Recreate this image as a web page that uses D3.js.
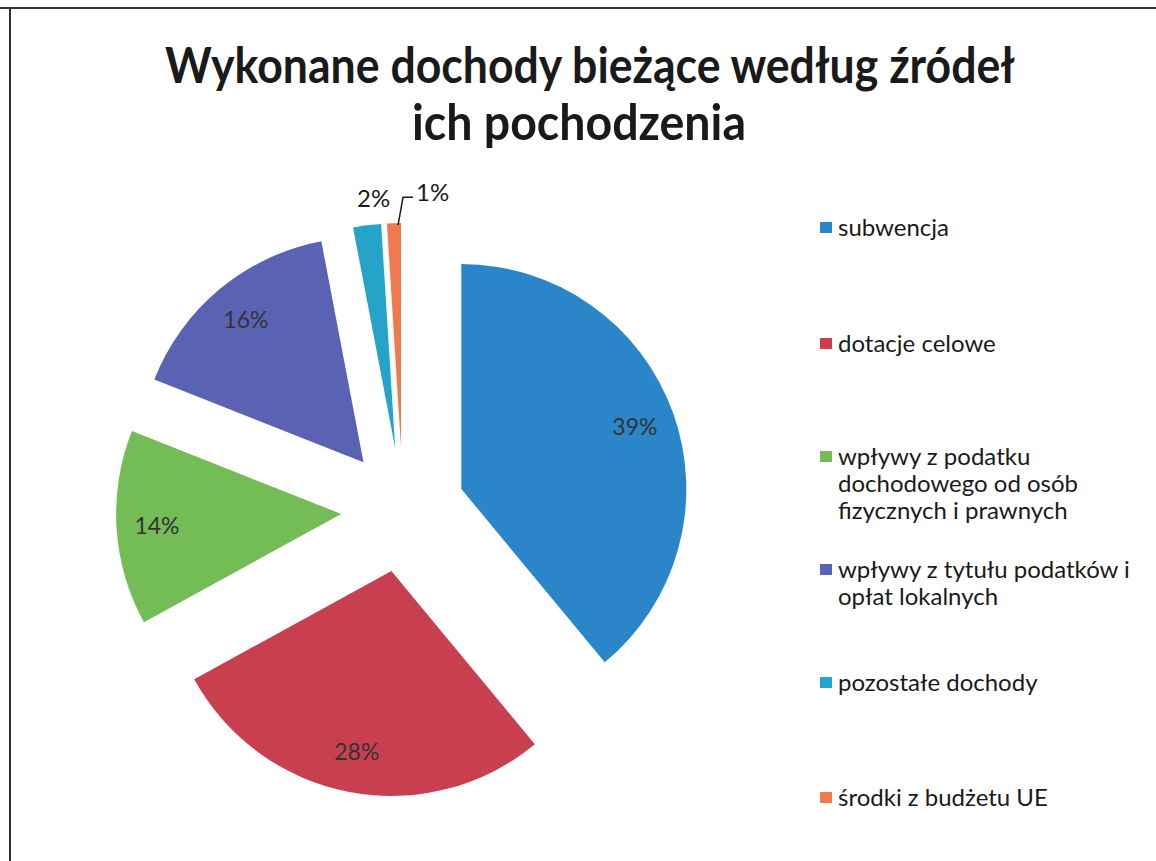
<!DOCTYPE html>
<html><head><meta charset="utf-8">
<script src="https://cdn.jsdelivr.net/npm/d3@7"></script>
<style>body{margin:0;background:#fff}svg{display:block}</style>
</head><body>
<svg id="c" width="1156" height="861"></svg>
<script>
const categories = ["subwencja","dotacje celowe","wpływy z podatku dochodowego od osób fizycznych i prawnych","wpływy z tytułu podatków i opłat lokalnych","pozostałe dochody","środki z budżetu UE"];
const legendLines = [["subwencja"],["dotacje celowe"],["wpływy z podatku","dochodowego od osób","fizycznych i prawnych"],["wpływy z tytułu podatków i","opłat lokalnych"],["pozostałe dochody"],["środki z budżetu UE"]];
const values = [39, 28, 14, 16, 2, 1];
const labels = ["39%","28%","14%","16%","2%","1%"];
const titleLines = ["Wykonane dochody bieżące według źródeł","ich pochodzenia"];
const colors = ["#2a86c8","#c8404f","#74bc55","#5a63b3","#25a3c8","#f07a50"];

const svg = d3.select("#c");
const FONT = "Lato, 'Open Sans', sans-serif";
// scan frame
svg.append("line").attr("x1",0).attr("x2",1156).attr("y1",8).attr("y2",8).attr("stroke","#333").attr("stroke-width",2);
svg.append("line").attr("x1",10).attr("x2",10).attr("y1",8).attr("y2",861).attr("stroke","#333").attr("stroke-width",2);

// title
const tw = [850, 334], tx = [590, 579];
titleLines.forEach((t,i)=>{
  svg.append("text").attr("x",tx[i]).attr("y",83+i*57).attr("text-anchor","middle")
    .attr("font-family",FONT).attr("font-weight","bold").attr("font-size",50)
    .attr("fill","#1a1a1a").attr("textLength",tw[i]).attr("lengthAdjust","spacingAndGlyphs").text(t);
});

const cx = 403, cy = 510, R = 225, explode = 62;
const pie = d3.pie().sort(null).value(d=>d)(values);
const arc = d3.arc().innerRadius(0).outerRadius(R);
const g = svg.append("g").attr("transform",`translate(${cx},${cy})`);
pie.forEach((p,i)=>{
  const m = (p.startAngle+p.endAngle)/2;
  const ox = explode*Math.sin(m), oy = -explode*Math.cos(m);
  const sg = g.append("g").attr("transform",`translate(${ox},${oy})`);
  sg.append("path").attr("d",arc(p)).attr("fill",colors[i]);
  if (i < 4) {
    const lr = R*0.82;
    sg.append("text").attr("x",lr*Math.sin(m)).attr("y",-lr*Math.cos(m)).attr("dy","0.35em")
      .attr("text-anchor","middle").attr("font-family",FONT).attr("font-size",23)
      .attr("fill","#333").text(labels[i]);
  } else if (i === 4) {
    const lr = R + 27;
    sg.append("text").attr("x",lr*Math.sin(m)+10).attr("y",-lr*Math.cos(m)).attr("dy","0.35em")
      .attr("text-anchor","middle").attr("font-family",FONT).attr("font-size",24)
      .attr("fill","#1a1a1a").text(labels[i]);
  } else {
    const px = (R-2)*Math.sin(m)+4, py = -(R-2)*Math.cos(m);
    sg.append("path").attr("d",`M${px},${py}L${px+5},${py-28}L${px+15},${py-28}`)
      .attr("fill","none").attr("stroke","#1a1a1a").attr("stroke-width",1.5);
    sg.append("text").attr("x",px+18).attr("y",py-33).attr("dy","0.35em")
      .attr("font-family",FONT).attr("font-size",24)
      .attr("fill","#1a1a1a").text(labels[i]);
  }
});

// legend
const startY = [228, 344, 457, 570, 683, 798];
legendLines.forEach((lines,i)=>{
  const y0 = startY[i];
  svg.append("rect").attr("x",820).attr("y",y0-6).attr("width",12).attr("height",11).attr("fill",colors[i]);
  lines.forEach((l,j)=>{
    svg.append("text").attr("x",838).attr("y",y0+j*27).attr("dy","0.35em")
      .attr("font-family",FONT).attr("font-size",24)
      .attr("fill","#1a1a1a").text(l);
  });
});
</script>
</body></html>
